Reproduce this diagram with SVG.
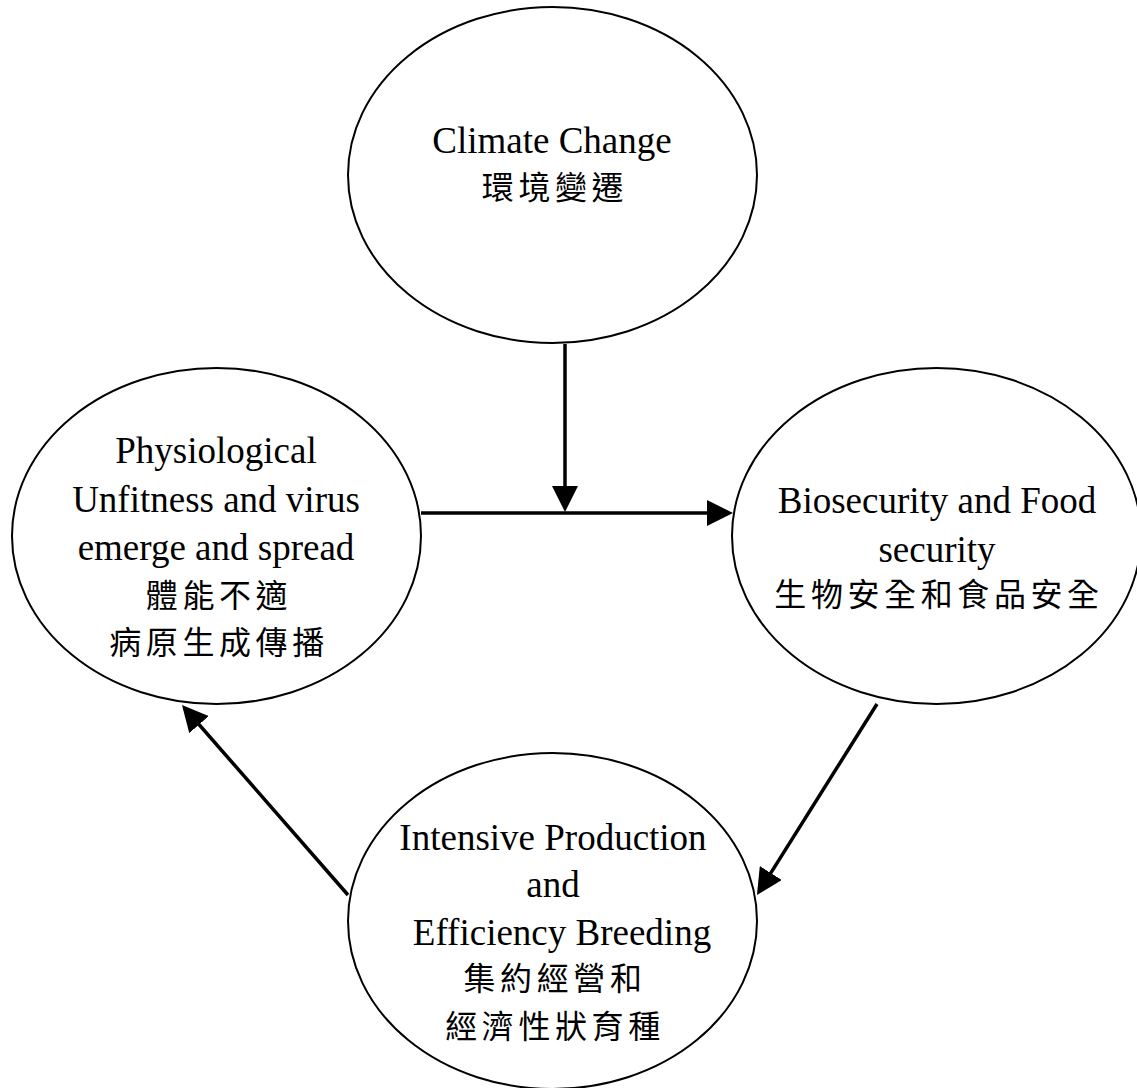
<svg xmlns="http://www.w3.org/2000/svg" width="1137" height="1088" viewBox="0 0 1137 1088">
<style>
.node ellipse{fill:#fff;stroke:#000;stroke-width:2}
.en{font-family:"Liberation Serif","Times New Roman",serif;font-size:37px;fill:#000;text-anchor:middle}
.zh{font-family:"Liberation Serif","Noto Sans CJK TC",serif;font-size:32px;letter-spacing:4.6px;fill:#000;text-anchor:middle}
.conn line{stroke:#000;stroke-width:3.5;marker-end:url(#ah)}
</style>
<defs>
<marker id="ah" markerUnits="userSpaceOnUse" markerWidth="26" markerHeight="26" refX="22" refY="13" orient="auto" viewBox="0 0 26 26">
<path d="M0,0 L26,13 L0,26 z" fill="#000"/>
</marker>
</defs>
<rect width="1137" height="1088" fill="#fff"/>
<g id="climate" class="node">
<ellipse cx="552.5" cy="175" rx="204.5" ry="168"/>
<text class="en" x="552" y="153">Climate Change</text>
<text class="zh" x="555" y="199">環境變遷</text>
</g>
<g id="physiological" class="node">
<ellipse cx="216.5" cy="536" rx="204.5" ry="168"/>
<text class="en" x="216" y="463">Physiological</text>
<text class="en" x="216" y="512">Unfitness and virus</text>
<text class="en" x="216" y="560">emerge and spread</text>
<text class="zh" x="219" y="607">體能不適</text>
<text class="zh" x="219" y="654">病原生成傳播</text>
</g>
<g id="biosecurity" class="node">
<ellipse cx="936.5" cy="536" rx="204.5" ry="168"/>
<text class="en" x="937" y="513">Biosecurity and Food</text>
<text class="en" x="937" y="562">security</text>
<text class="zh" x="939" y="606">生物安全和食品安全</text>
</g>
<g id="intensive" class="node">
<ellipse cx="552.5" cy="921" rx="204.5" ry="168"/>
<text class="en" x="553" y="850">Intensive Production</text>
<text class="en" x="553" y="897">and</text>
<text class="en" x="562" y="945">Efficiency Breeding</text>
<text class="zh" x="555" y="990">集約經營和</text>
<text class="zh" x="555" y="1038">經濟性狀育種</text>
</g>
<g id="connectors" class="conn">
<line x1="565" y1="344" x2="565" y2="508"/>
<line x1="421" y1="513" x2="729" y2="513"/>
<line x1="877" y1="704" x2="759.1" y2="891.6"/>
<line x1="348" y1="895" x2="184.6" y2="708"/>
</g>
</svg>
